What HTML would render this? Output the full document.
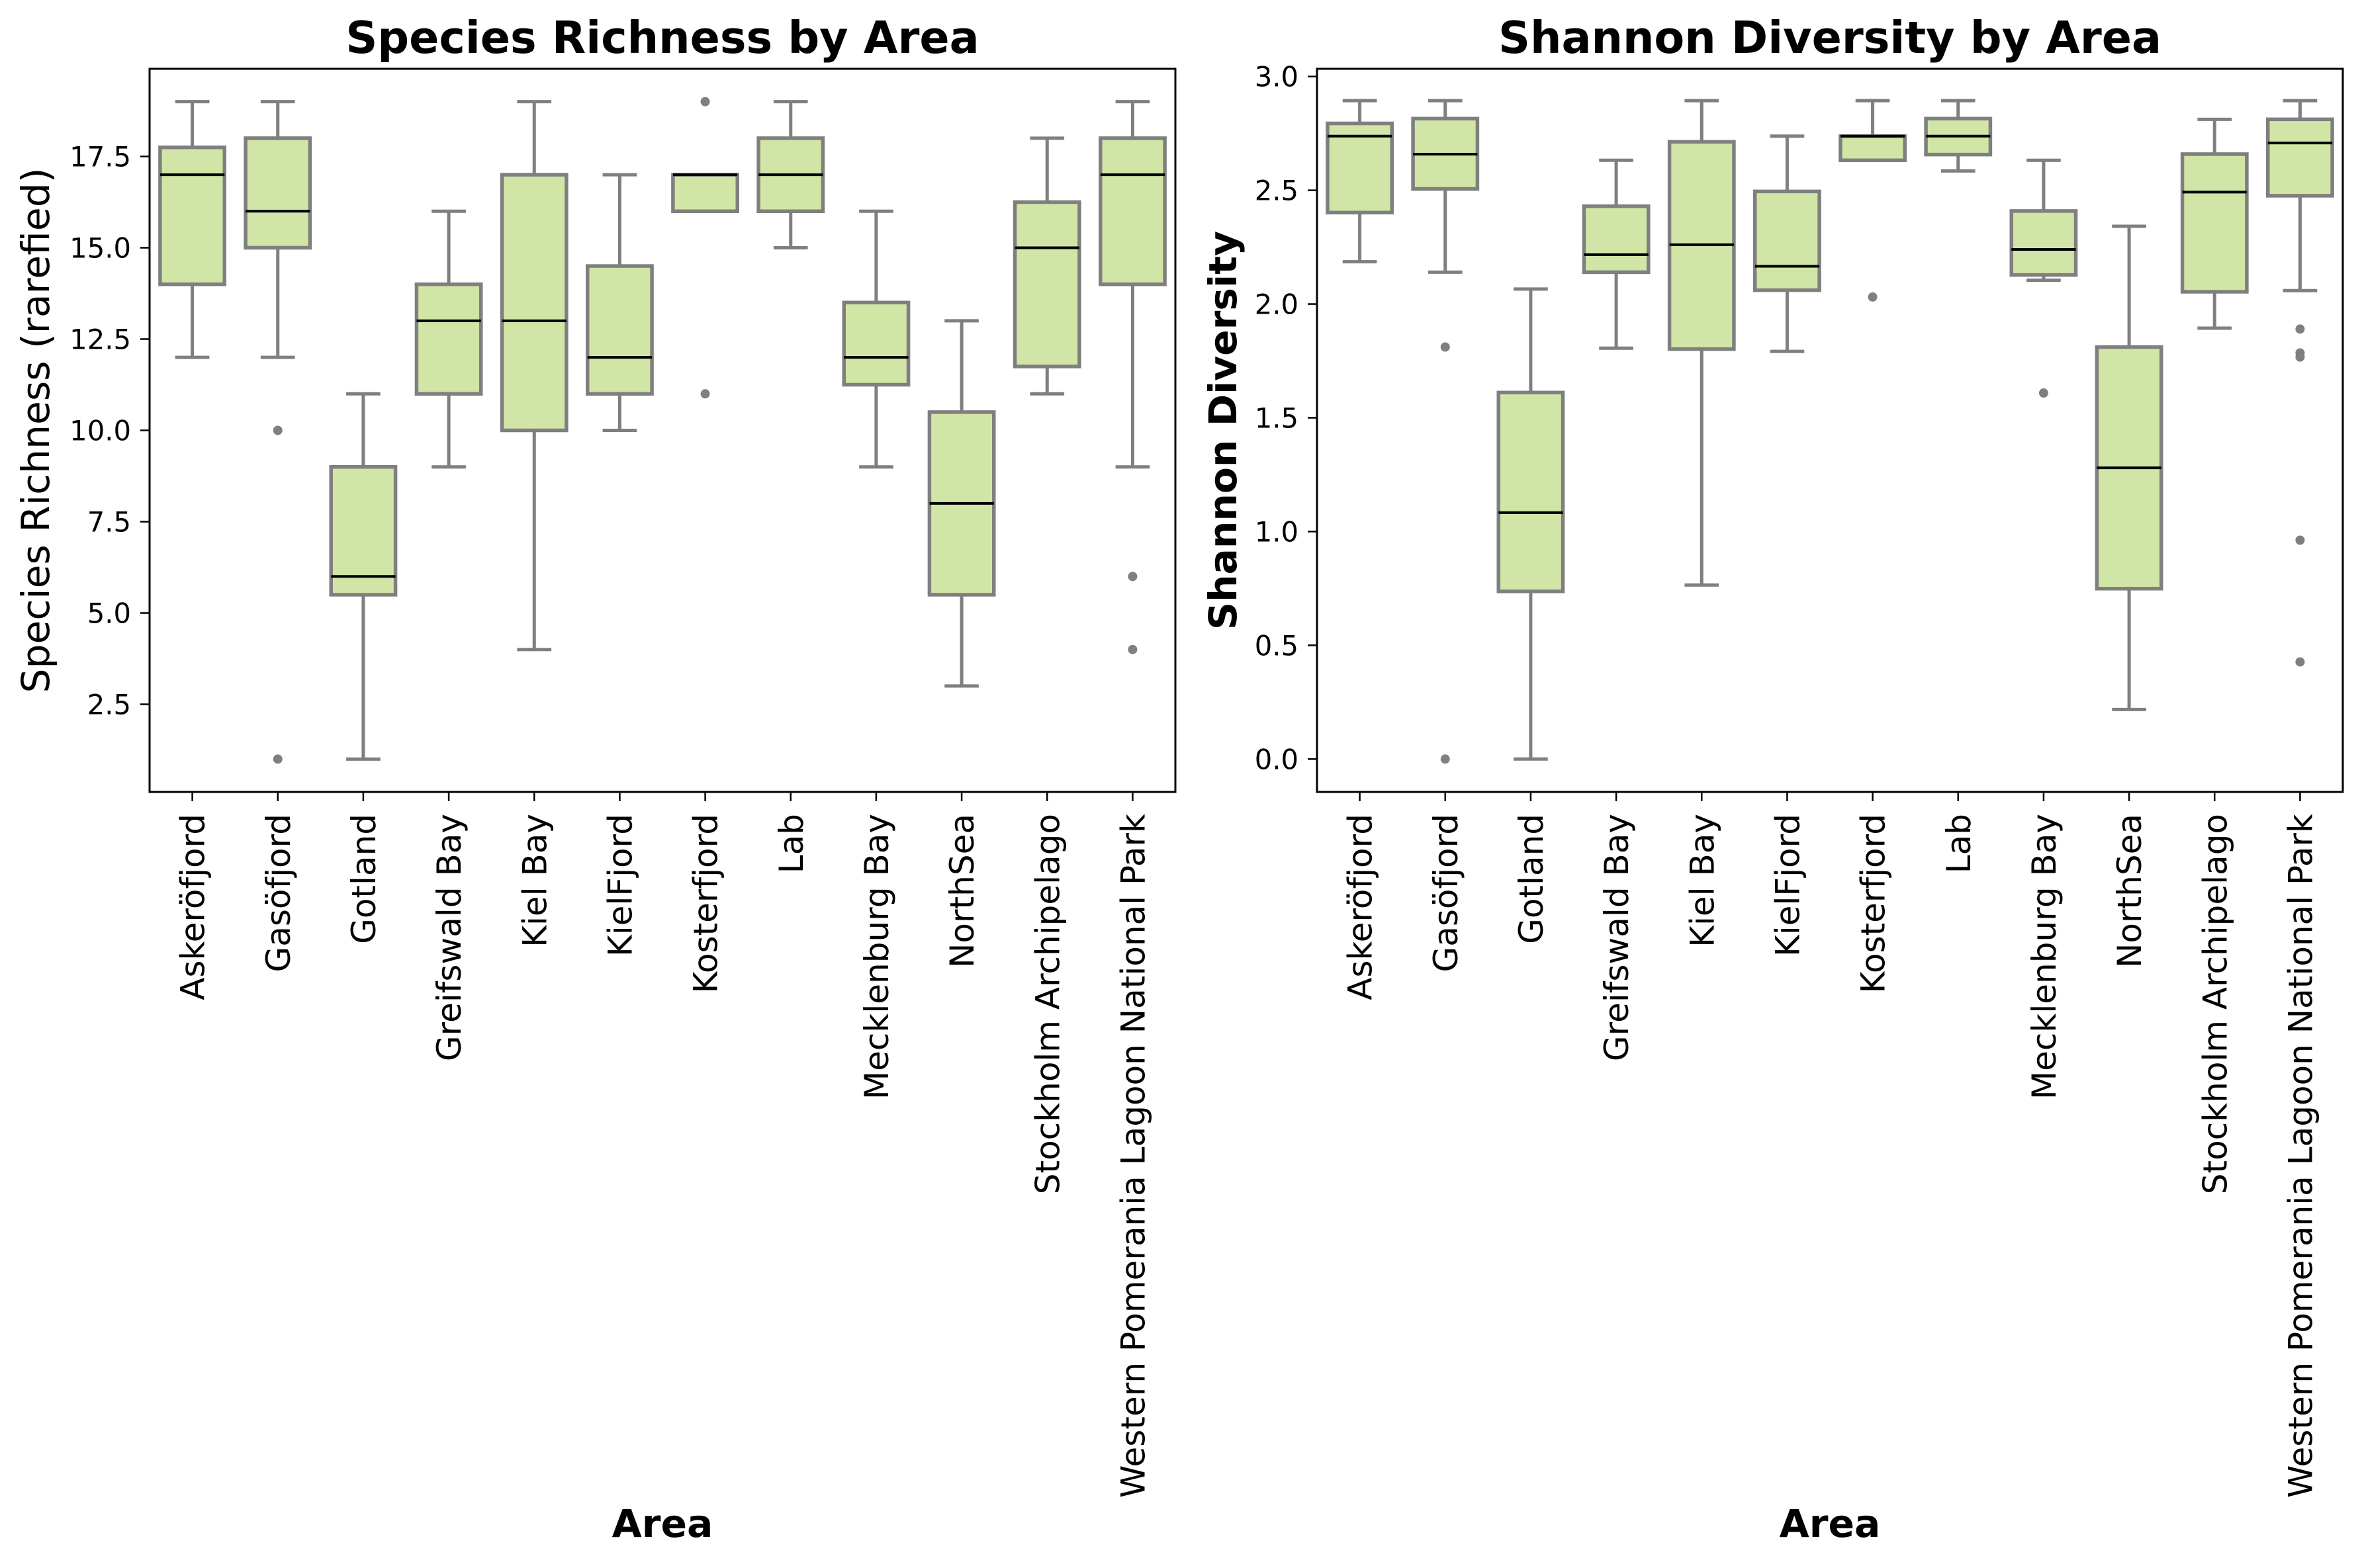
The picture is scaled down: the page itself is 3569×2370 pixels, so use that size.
<!DOCTYPE html>
<html><head><meta charset="utf-8"><style>
html,body{margin:0;padding:0;background:#fff}
svg text{font-family:"DejaVu Sans","Liberation Sans",sans-serif}
</style></head><body>
<svg id="fig" xmlns="http://www.w3.org/2000/svg" width="3569" height="2365" viewBox="0 0 3569 2365"></svg>
<script>
const categories = ["Askeröfjord","Gasöfjord","Gotland","Greifswald Bay","Kiel Bay","KielFjord","Kosterfjord","Lab","Mecklenburg Bay","NorthSea","Stockholm Archipelago","Western Pomerania Lagoon National Park"];
// Species richness: [whiskerLow, Q1, median, Q3, whiskerHigh]
const richStats = [
 [12,14,17,17.75,19],[12,15,16,18,19],[1,5.5,6,9,11],[9,11,13,14,16],
 [4,10,13,17,19],[10,11,12,14.5,17],[16,16,17,17,17],[15,16,17,18,19],
 [9,11.25,12,13.5,16],[3,5.5,8,10.5,13],[11,11.75,15,16.25,18],[9,14,17,18,19]];
const richOutliers = [[],[10,1],[],[],[],[],[19,11],[],[],[],[],[6,4]];
const richTicks = [2.5,5.0,7.5,10.0,12.5,15.0,17.5];
const richTickLabels = ["2.5","5.0","7.5","10.0","12.5","15.0","17.5"];
// Shannon diversity
const shanStats = [
 [2.186,2.402,2.738,2.794,2.894],[2.140,2.506,2.659,2.815,2.894],[0.0,0.737,1.083,1.611,2.066],
 [1.806,2.140,2.217,2.430,2.632],[0.765,1.802,2.261,2.713,2.894],[1.792,2.061,2.166,2.495,2.738],
 [2.632,2.632,2.738,2.738,2.894],[2.585,2.657,2.738,2.815,2.894],[2.105,2.128,2.240,2.409,2.632],
 [0.218,0.749,1.280,1.811,2.342],[1.894,2.054,2.492,2.659,2.812],[2.059,2.476,2.708,2.812,2.894]];
const shanOutliers = [[],[1.811,0.0],[],[],[],[],[2.031],[],[1.609],[],[],[1.890,1.785,1.767,0.962,0.427]];
const shanTicks = [0.0,0.5,1.0,1.5,2.0,2.5,3.0];
const shanTickLabels = ["0.0","0.5","1.0","1.5","2.0","2.5","3.0"];

const NS="http://www.w3.org/2000/svg";
const svg=document.getElementById('fig');
function mk(tag,attrs,parent){const e=document.createElementNS(NS,tag);for(const k in attrs)e.setAttribute(k,attrs[k]);(parent||svg).appendChild(e);return e;}

function panel(cfg){
 const g=mk('g',{});
 
 
 const L=cfg.left,R=cfg.right,T=104,B=1197;
 const n=categories.length, bw=(R-L)/n;
 const xs=i=>L+(i+0.5)*bw;
 const ys=v=>B-(v-cfg.ymin)/(cfg.ymax-cfg.ymin)*(B-T);
 const boxW=bw*0.8-6, capW=bw*0.4;
 const gray='#7f7f7f';
 categories.forEach((c,i)=>{
  const s=cfg.stats[i], x=xs(i);
  const bg=mk('g',{},g);
  
  
  mk('line',{x1:x,x2:x,y1:ys(s[0]),y2:ys(s[1]),stroke:gray,'stroke-width':5},bg);
  mk('line',{x1:x,x2:x,y1:ys(s[3]),y2:ys(s[4]),stroke:gray,'stroke-width':5},bg);
  mk('line',{x1:x-capW/2,x2:x+capW/2,y1:ys(s[0]),y2:ys(s[0]),stroke:gray,'stroke-width':5},bg);
  mk('line',{x1:x-capW/2,x2:x+capW/2,y1:ys(s[4]),y2:ys(s[4]),stroke:gray,'stroke-width':5},bg);
  mk('rect',{x:x-boxW/2,y:ys(s[3]),width:boxW,height:Math.max(0.5,ys(s[1])-ys(s[3])),fill:'#d1e6a6',stroke:gray,'stroke-width':5.5},bg);
  mk('line',{x1:x-boxW/2,x2:x+boxW/2,y1:ys(s[2]),y2:ys(s[2]),stroke:'#000','stroke-width':4},bg);
  cfg.outliers[i].forEach(v=>{
   const o=mk('circle',{cx:x,cy:ys(v),r:7,fill:gray},bg);
   
   
  });
  mk('line',{x1:x,x2:x,y1:B,y2:B+14,stroke:'#000','stroke-width':2.5},g);
  const t=mk('text',{x:0,y:0,'font-size':50,'text-anchor':'end',transform:`translate(${x+18},${B+33}) rotate(-90)`},g);
  t.textContent=c;
  
  
 });
 cfg.ticks.forEach((v,k)=>{
  const y=ys(v);
  mk('line',{x1:L-14,x2:L,y1:y,y2:y,stroke:'#000','stroke-width':2.5},g);
  const t=mk('text',{x:L-28,y:y+15,'font-size':41.7,'text-anchor':'end'},g);
  t.textContent=cfg.tickLabels[k];
  
  
 });
 const fr=mk('rect',{x:L,y:T,width:R-L,height:B-T,fill:'none',stroke:'#000','stroke-width':3},g);
 
 
 const ti=mk('text',{x:(L+R)/2,y:80,'font-size':66.7,'font-weight':'bold','text-anchor':'middle'},g);
 ti.textContent=cfg.title;
 
 
 const xl=mk('text',{x:(L+R)/2,y:2323,'font-size':58.3,'font-weight':'bold','text-anchor':'middle'},g);
 xl.textContent='Area';
 
 
 const yl=mk('text',{x:0,y:0,'font-size':58.3,'font-weight':cfg.ylBold?'bold':'normal','text-anchor':'middle',transform:`translate(${cfg.ylx},${(T+B)/2}) rotate(-90)`},g);
 yl.textContent=cfg.ylabel;
 
 
}
panel({name:'species-richness-chart',left:226,right:1776,ymin:0.1,ymax:19.9,stats:richStats,outliers:richOutliers,ticks:richTicks,tickLabels:richTickLabels,title:'Species Richness by Area',ylabel:'Species Richness (rarefied)',ylBold:false,ylx:74});
panel({name:'shannon-diversity-chart',left:1990,right:3540,ymin:-0.1445,ymax:3.034,stats:shanStats,outliers:shanOutliers,ticks:shanTicks,tickLabels:shanTickLabels,title:'Shannon Diversity by Area',ylabel:'Shannon Diversity',ylBold:true,ylx:1868});
</script>
</body></html>
